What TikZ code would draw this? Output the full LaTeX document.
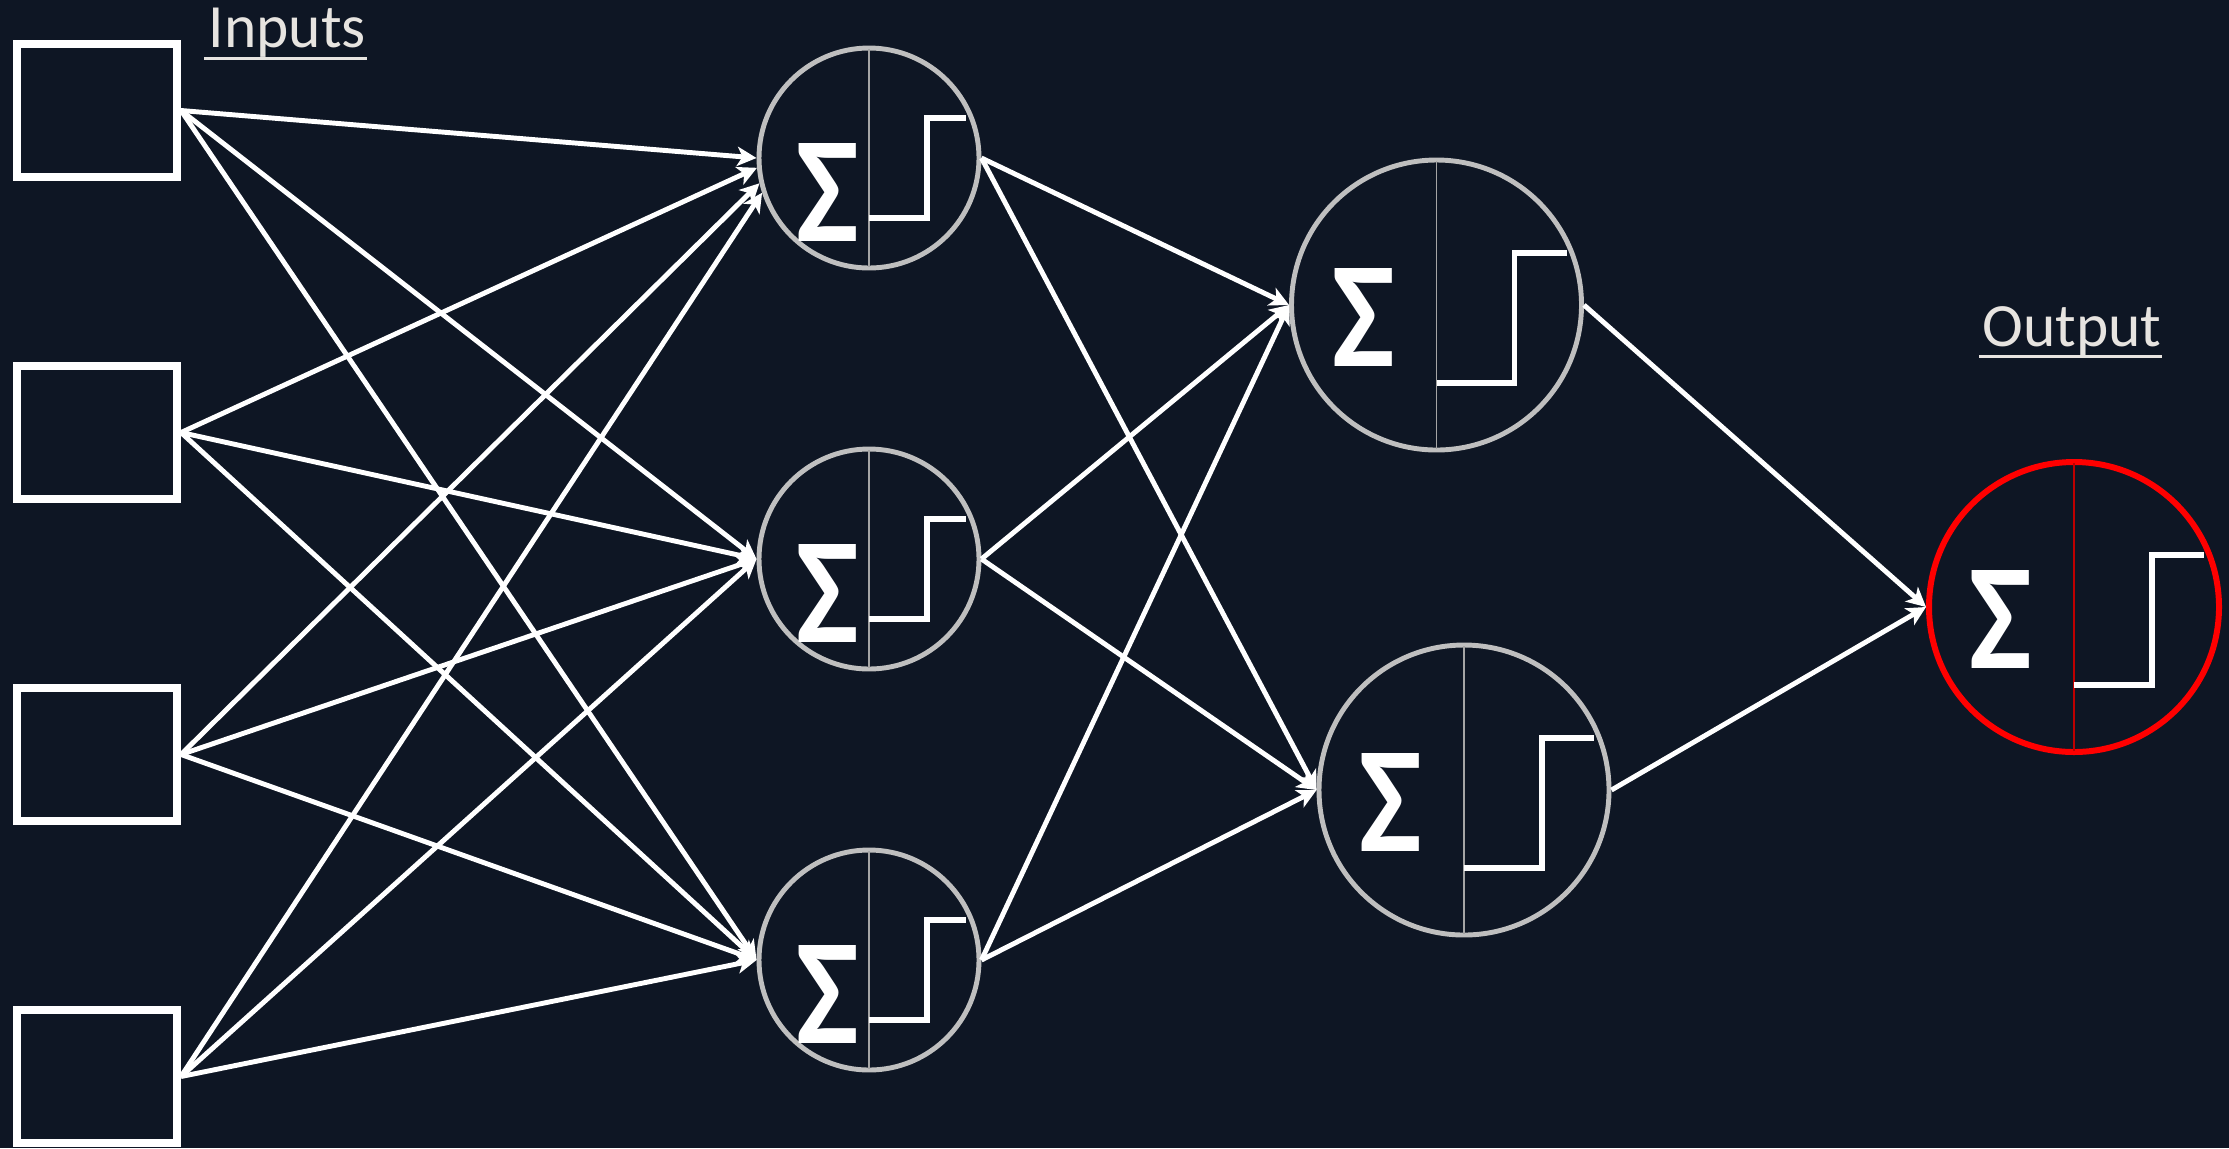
\documentclass[tikz,border=0pt]{standalone}
\usepackage{fontspec}
\setmainfont{Carlito}
\usepackage{tikz}
\usetikzlibrary{shapes.geometric,arrows.meta,positioning}
\definecolor{bgnavy}{RGB}{14,22,36}
\definecolor{ringgray}{RGB}{191,191,191}
\definecolor{linegray}{RGB}{165,165,165}
\definecolor{labelgray}{RGB}{231,228,224}
\definecolor{outred}{RGB}{255,0,0}
\definecolor{darkred}{RGB}{190,0,0}
\tikzstyle{inputbox} = [rectangle, draw=white, line width=2.3pt, minimum width=1.6cm, minimum height=1.33cm, inner sep=0pt]
\tikzstyle{neuron} = [circle, draw=ringgray, line width=1.4pt, fill=bgnavy, minimum size=2.2cm, inner sep=0pt]
\tikzstyle{bigneuron} = [neuron, minimum size=2.9cm]
\tikzstyle{outneuron} = [bigneuron, draw=outred, line width=1.7pt]
\tikzstyle{arrow} = [white, line width=1.4pt, ->, >={Stealth[length=5.5pt,width=5.5pt,inset=1.5pt]}]
\tikzstyle{divider} = [line width=0.55pt]
\tikzstyle{stepline} = [white, line width=1.6pt]
\tikzstyle{sumsign} = [text=white, inner sep=0pt, font=\fontsize{43}{43}\selectfont\bfseries]
\tikzstyle{heading} = [text=labelgray, inner sep=0pt, anchor=base west, font=\fontsize{17.5}{20}\selectfont]
\tikzstyle{headline} = [labelgray, line width=0.85pt]
\newcommand{\sigmasign}{\scalebox{0.88}[1]{Σ}}
\newcommand{\smallinside}[1]{
\draw[divider, linegray] ([yshift=-1pt]#1.north) -- ([yshift=1pt]#1.south);
\node (#1sum) [sumsign] at ([xshift=-0.41cm,yshift=-0.34cm]#1.center) {\sigmasign};
\draw[stepline] ([yshift=-0.60cm]#1.center) -- ++(0.58,0) -- ++(0,1.00) -- ++(0.39,0);
}
\newcommand{\biginside}[2]{
\draw[divider, #2] ([yshift=-1pt]#1.north) -- ([yshift=1pt]#1.south);
\node (#1sum) [sumsign] at ([xshift=-0.73cm,yshift=-0.12cm]#1.center) {\sigmasign};
\draw[stepline] ([yshift=-0.78cm]#1.center) -- ++(0.78,0) -- ++(0,1.30) -- ++(0.52,0);
}

\begin{document}
\begin{tikzpicture}[node distance=3.22cm]
\useasboundingbox (0,0) rectangle (22.29,-11.48);
\fill[bgnavy] (0,0) rectangle (22.29,-11.48);

\node (in1) [inputbox] at (0.97,-1.105) {};
\node (in2) [inputbox, below of=in1] {};
\node (in3) [inputbox, below of=in2] {};
\node (in4) [inputbox, below of=in3] {};

\node (h11) [neuron] at (8.69,-1.58) {};
\node (h12) [neuron, below of=h11, yshift=-0.79cm] {};
\node (h13) [neuron, below of=h12, yshift=-0.79cm] {};

\node (h21) [bigneuron] at (14.365,-3.05) {};
\node (h22) [bigneuron, below of=h21, xshift=0.275cm, yshift=-1.63cm] {};

\node (out) [outneuron] at (20.74,-6.07) {};

\smallinside{h11}
\smallinside{h12}
\smallinside{h13}
\biginside{h21}{linegray}
\biginside{h22}{linegray}
\biginside{out}{darkred}

\node (inlbl) [heading] at (2.08,-0.47) {Inputs};
\node (outlbl) [heading] at (19.82,-3.46) {Output};
\draw[headline] ([xshift=-0.04cm,yshift=-0.11cm]inlbl.base west) -- ([yshift=-0.11cm]inlbl.base east);
\draw[headline] ([xshift=-0.03cm,yshift=-0.1cm]outlbl.base west) -- ([yshift=-0.1cm]outlbl.base east);

\draw[arrow] (in1.east) -- (h11.west);
\draw[arrow] (in2.east) -- (h11.185);
\draw[arrow] (in3.east) -- (h11.193);
\draw[arrow] (in4.east) -- (h11.198);
\draw[arrow] (in1.east) -- (h12.west);
\draw[arrow] (in2.east) -- (h12.west);
\draw[arrow] (in3.east) -- (h12.west);
\draw[arrow] (in4.east) -- (h12.west);
\draw[arrow] (in1.east) -- (h13.west);
\draw[arrow] (in2.east) -- (h13.west);
\draw[arrow] (in3.east) -- (h13.west);
\draw[arrow] (in4.east) -- (h13.west);

\draw[arrow] (h11.east) -- (h21.west);
\draw[arrow] (h11.east) -- (h22.west);
\draw[arrow] (h12.east) -- (h21.west);
\draw[arrow] (h12.east) -- (h22.west);
\draw[arrow] (h13.east) -- (h21.west);
\draw[arrow] (h13.east) -- (h22.west);

\draw[arrow] (h21.east) -- (out.west);
\draw[arrow] (h22.east) -- (out.west);
\end{tikzpicture}
\end{document}
